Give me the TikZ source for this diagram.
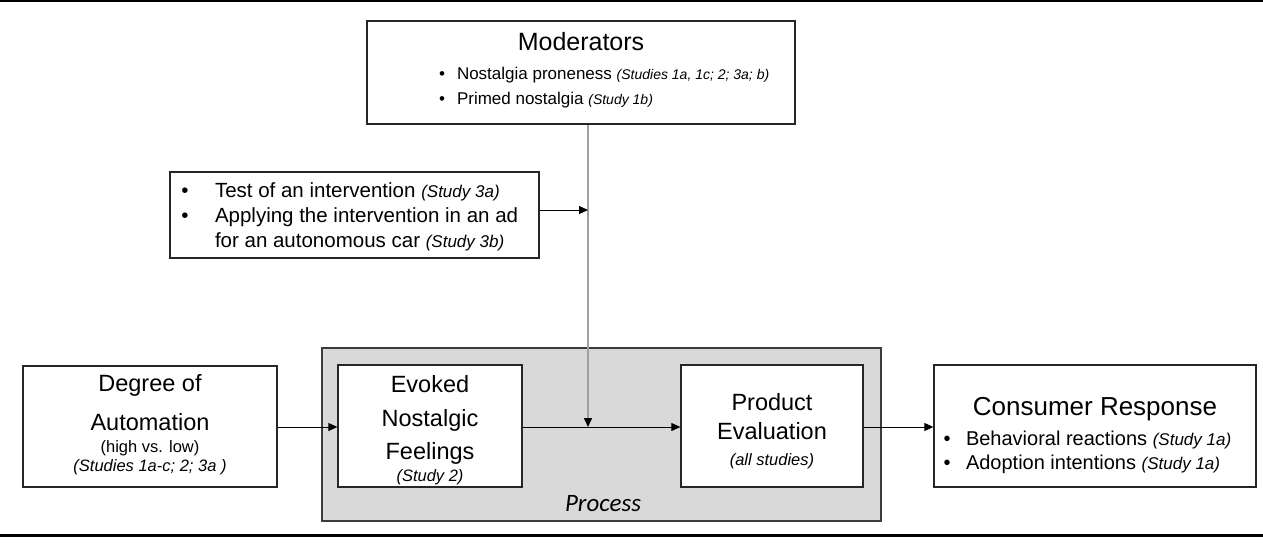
\documentclass[tikz,border=0pt]{standalone}
\usepackage{fontspec}
\setmainfont{Liberation Sans}
\newfontfamily\procfont{Carlito}
\usetikzlibrary{arrows.meta}
\definecolor{procgray}{HTML}{D9D9D9}
\definecolor{modline}{HTML}{A0A0A0}
\definecolor{boxline}{HTML}{262626}
\tikzset{
  box/.style={draw=boxline, line width=1.3pt, fill=white, inner sep=0pt},
  procbox/.style={draw=boxline!90, line width=1.5pt, fill=procgray, inner sep=0pt},
  conn/.style={draw=black, line width=0.9pt, -{Triangle[length=9pt,width=8pt]}},
  modconn/.style={draw=modline, line width=1.5pt, -{Triangle[length=9pt,width=8pt,fill=black,color=black]}},
  txt/.style={inner sep=0pt, outer sep=0pt},
}
\newcommand{\fs}[1]{\fontsize{#1}{#1}\selectfont}
\begin{document}
\begin{tikzpicture}[x=1pt,y=-1pt]
\useasboundingbox (0,0) rectangle (1263,550);
% rules
\draw[line width=2pt] (0,1) -- (1263,1);
\draw[line width=3pt] (0,535) -- (1263,535);

% boxes
\node[box, minimum width=428pt, minimum height=103pt] (mod) at (581,72.5) {};
\node[box, minimum width=369pt, minimum height=86pt] (int) at (354.5,215) {};
\node[box, minimum width=254pt, minimum height=121pt] (deg) at (150,426.5) {};
\node[procbox, minimum width=559pt, minimum height=173pt] (proc) at (601.5,434.5) {};
\node[box, minimum width=184pt, minimum height=122pt] (evo) at (430,426) {};
\node[box, minimum width=182pt, minimum height=122pt] (prod) at (772,426) {};
\node[box, minimum width=322pt, minimum height=122pt] (cons) at (1095,426) {};

% moderators text
\node[txt, anchor=base] (modt) at (581,50) {\fs{25}Moderators};
\node[txt, anchor=base] (modb1) at (442,79) {\fs{17}•};
\node[txt, anchor=base west] (modl1) at (457,79) {\fs{17}Nostalgia proneness \fs{14}\itshape (Studies 1a, 1c; 2; 3a; b)};
\node[txt, anchor=base] (modb2) at (442,104) {\fs{17}•};
\node[txt, anchor=base west] (modl2) at (457,104) {\fs{17}Primed nostalgia \fs{14}\itshape (Study 1b)};

% intervention text
\node[txt, anchor=base] (intb1) at (185,197) {\fs{20.5}•};
\node[txt, anchor=base west] (intl1) at (215,197) {\fs{20.5}Test of an intervention \fs{17}\itshape (Study 3a)};
\node[txt, anchor=base] (intb2) at (185,222) {\fs{20.5}•};
\node[txt, anchor=base west] (intl2) at (215,222) {\fs{20.5}Applying the intervention in an ad};
\node[txt, anchor=base west] (intl3) at (215,247) {\fs{20.5}for an autonomous car \fs{17}\itshape (Study 3b)};

% degree text
\node[txt, anchor=base] (degt1) at (150,391.5) {\fs{23.5}Degree of};
\node[txt, anchor=base] (degt2) at (150,430.5) {\fs{23.5}Automation};
\node[txt, anchor=base] (degt3) at (150,452) {\fs{16.5}(high vs. low)};
\node[txt, anchor=base] (degt4) at (150,471) {\fs{16.5}\itshape (Studies 1a-c; 2; 3a )};

% evoked text
\node[txt, anchor=base] (evot1) at (430,392.5) {\fs{23.5}Evoked};
\node[txt, anchor=base] (evot2) at (430,426.5) {\fs{23.5}Nostalgic};
\node[txt, anchor=base] (evot3) at (430,459.5) {\fs{23.5}Feelings};
\node[txt, anchor=base] (evot4) at (430,481) {\fs{16.5}\itshape (Study 2)};

% product text
\node[txt, anchor=base] (prodt1) at (772,410.5) {\fs{23.5}Product};
\node[txt, anchor=base] (prodt2) at (772,439.5) {\fs{23.5}Evaluation};
\node[txt, anchor=base] (prodt3) at (772,465) {\fs{16.5}\itshape (all studies)};

% consumer text
\node[txt, anchor=base] (const) at (1095,415) {\fs{26}Consumer Response};
\node[txt, anchor=base] (consb1) at (947,445) {\fs{20}•};
\node[txt, anchor=base west] (consl1) at (966,445) {\fs{20}Behavioral reactions \fs{17}\itshape (Study 1a)};
\node[txt, anchor=base] (consb2) at (947,469) {\fs{20}•};
\node[txt, anchor=base west] (consl2) at (966,469) {\fs{20}Adoption intentions \fs{17}\itshape (Study 1a)};

% process label
\node[txt, anchor=base] (proct) at (603,511) {\procfont\fs{25}\itshape Process};

% connectors
\coordinate (join) at (588,427);
\coordinate (modjoin) at (588,210);
\draw[conn] (deg.east |- join) -- (evo.west |- join);
\draw[draw=black, line width=0.9pt] (evo.east |- join) -- (join);
\draw[conn] (join) -- (prod.west |- join);
\draw[conn] (prod.east |- join) -- (cons.west |- join);
\draw[modconn] (mod.south -| join) -- (join);
\draw[conn] (int.east |- modjoin) -- (modjoin);
\end{tikzpicture}
\end{document}
